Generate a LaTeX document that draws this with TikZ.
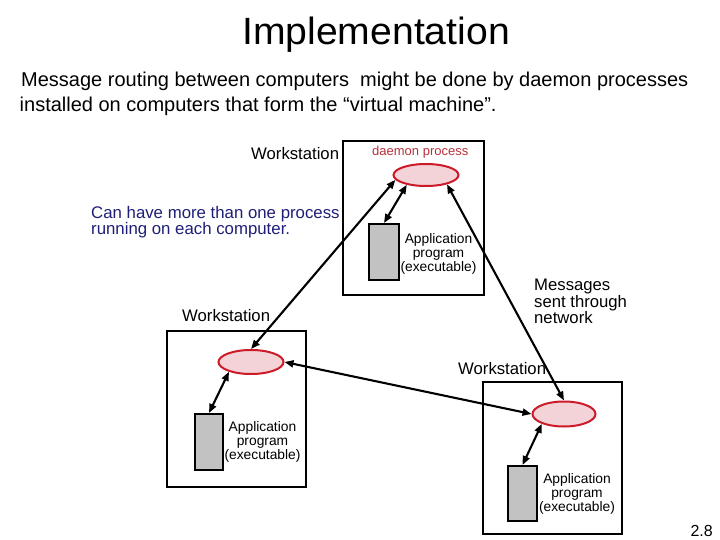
\documentclass[tikz,border=0pt]{standalone}
\usepackage{fontspec}
\setmainfont{Liberation Sans}
\newfontfamily\titlefont{Liberation Sans}[FakeStretch=1.03]
\usetikzlibrary{shapes.geometric,arrows.meta}
\definecolor{ellred}{HTML}{CC1A28}
\definecolor{ellfill}{HTML}{F3D3D8}
\definecolor{appfill}{HTML}{C2C2C2}
\definecolor{dtext}{HTML}{B8303C}
\definecolor{navytext}{HTML}{1E1E78}
\tikzset{
  wsbox/.style={draw=black,line width=2.1pt,rectangle,inner sep=0pt},
  daemon/.style={ellipse,draw=ellred,fill=ellfill,line width=2pt,inner sep=0pt},
  appbox/.style={rectangle,draw=black,fill=appfill,line width=2pt,inner sep=0pt},
  msg/.style={line width=2.1pt,{Triangle[length=9pt,width=7pt]}-{Triangle[length=9pt,width=7pt]}},
  txt/.style={inner sep=0pt},
  wslabel/.style={inner sep=0pt,anchor=base west,font=\fontsize{16.7}{18}\selectfont},
  apptxt/.style={inner sep=0pt,align=center,anchor=north,font=\fontsize{13.8}{14}\selectfont}
}
\begin{document}
\begin{tikzpicture}[x=1pt,y=-1pt]
\useasboundingbox (0,0) rectangle (720,540);
% title and intro
\node[txt,anchor=base] (title) at (376,45) {\titlefont\fontsize{38}{42}\selectfont Implementation};
\node[txt,anchor=base west,font=\fontsize{20}{24}\selectfont] (intro1) at (21,87) {Message routing between computers\ \ might be done by daemon processes};
\node[txt,anchor=base west,font=\fontsize{20}{24}\selectfont] (intro2) at (19.5,112) {installed on computers that form the “virtual machine”.};
% workstation boxes
\node[wsbox,minimum width=141pt,minimum height=154pt] (ws1) at (413.5,218) {};
\node[wsbox,minimum width=139pt,minimum height=156pt] (ws2) at (236.5,409) {};
\node[wsbox,minimum width=139pt,minimum height=152pt] (ws3) at (552.5,458) {};
% labels
\node[wslabel] (l1) at (251,159.5) {Workstation};
\node[wslabel] (l2) at (182,321.5) {Workstation};
\node[wslabel] (l3) at (458,374.5) {Workstation};
\node[txt,anchor=base west,text=dtext,font=\fontsize{13}{15}\selectfont] (dp) at (372,155.5) {daemon process};
\node[txt,anchor=north west,align=left,text=navytext,font=\fontsize{16.8}{15.5}\selectfont] (note) at (91,205.8) {Can have more than one process\\running on each computer.};
\node[txt,anchor=north west,align=left,font=\fontsize{16.7}{15.5}\selectfont] (msgs) at (534,279) {Messages\\sent through\\network};
\node[txt,anchor=base east,font=\fontsize{16}{18}\selectfont] (pg) at (713,536.5) {2.8};
% daemons
\node[daemon,minimum width=65pt,minimum height=22pt] (e1) at (426,175) {};
\node[daemon,minimum width=65pt,minimum height=24pt] (e2) at (251,362) {};
\node[daemon,minimum width=63pt,minimum height=25pt] (e3) at (564,414) {};
% applications
\node[appbox,minimum width=30pt,minimum height=56pt] (a1) at (384,252) {};
\node[appbox,minimum width=28pt,minimum height=56pt] (a2) at (209,442) {};
\node[appbox,minimum width=29pt,minimum height=55pt] (a3) at (522.5,493.5) {};
\node[apptxt] (t1) at (438.5,233.5) {Application\\program\\(executable)};
\node[apptxt] (t2) at (262.5,421) {Application\\program\\(executable)};
\node[apptxt] (t3) at (577,473) {Application\\program\\(executable)};
% connectors
\draw[msg] (e1.207) -- (a1.north);
\draw[msg] (e2.204) -- (a2.north);
\draw[msg] (e3.204) -- (a3.north);
\draw[msg] (e1.189) -- (e2.north);
\draw[msg] (e1.336) -- (e3.north);
\draw[msg] (e2.east) -- (e3.west);
\end{tikzpicture}
\end{document}
